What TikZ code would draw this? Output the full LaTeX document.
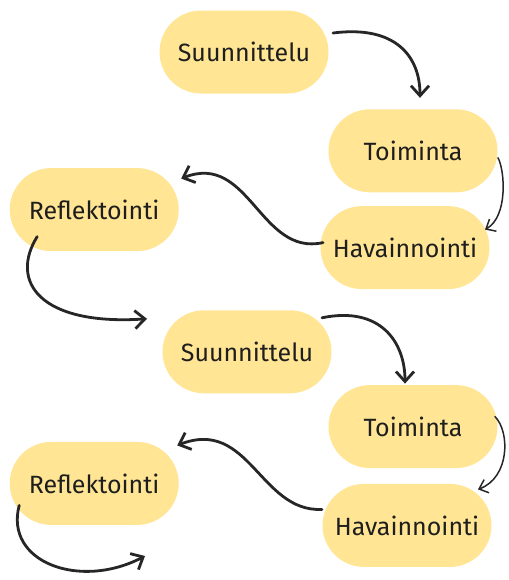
\documentclass[tikz,border=0pt]{standalone}
\usepackage{fontspec}
\setmainfont{Fira Sans}
\usetikzlibrary{positioning,shapes.misc,arrows.meta}
\definecolor{stagefill}{HTML}{FFE594}
\definecolor{stagetext}{HTML}{1E1E1E}
\definecolor{flowline}{HTML}{262626}
\tikzset{
  stage/.style={rounded rectangle, fill=stagefill, text=stagetext,
    minimum width=84.5pt, minimum height=41.5pt, inner sep=0pt,
    font=\fontsize{12.5}{14}\selectfont},
  flow/.style={draw=flowline, line width=1.4pt, line cap=round,
    -{Straight Barb[length=5pt,width=9pt]}},
  thinflow/.style={flow, line width=0.75pt,
    -{Straight Barb[length=4pt,width=7pt]}},
}

\begin{document}
\begin{tikzpicture}[x=0.5pt,y=-0.5pt]
  \useasboundingbox (0,0) rectangle (509,580);

  % First cycle
  \node[stage] (plan1) at (244,52) {Suunnittelu};
  \node[stage, below=7.5pt of plan1, xshift=84.5pt] (act1) {Toiminta};
  \node[stage, below=6.5pt of act1, xshift=-4pt] (obs1) {Havainnointi};
  \node[stage, left=70.5pt of obs1, yshift=19pt] (refl1) {Reflektointi};

  % Second cycle
  \node[stage, below=108pt of plan1, xshift=1.5pt] (plan2) {Suunnittelu};
  \node[stage, below=96pt of act1] (act2) {Toiminta};
  \node[stage, below=97pt of obs1, xshift=1pt] (obs2) {Havainnointi};
  \node[stage, below=95pt of refl1] (refl2) {Reflektointi};
  \coordinate (next) at (145,556);

  % Connect the nodes
  \draw[flow] ([shift={(89,-19)}]plan1.center) .. controls +(62,-8) and +(0,-42) .. ([shift={(7,-53)}]act1.center);
  \draw[thinflow] ([shift={(85,7)}]act1.center) .. controls +(7,13) and +(23,-13) .. ([shift={(80,-18)}]obs1.center);
  \draw[flow] ([shift={(-82,-5)}]obs1.center) .. controls +(-63,14) and +(68,-27) .. ([shift={(87,-31)}]refl1.center);
  \draw[flow] ([shift={(-57,27)}]refl1.center) .. controls +(-28,45) and +(-107,7) .. ([shift={(-100,-33)}]plan2.center);

  \draw[flow] ([shift={(75,-34)}]plan2.center) .. controls +(58,-12) and +(0,-42) .. ([shift={(-8,-43)}]act2.center);
  \draw[thinflow] ([shift={(82,-10)}]act2.center) .. controls +(15,15) and +(32,-12) .. ([shift={(71,-36)}]obs2.center);
  \draw[flow] ([shift={(-85,-16)}]obs2.center) .. controls +(-62,3) and +(72,-28) .. ([shift={(83,-38)}]refl2.center);
  \draw[flow] ([shift={(-75,22)}]refl2.center) .. controls +(-15,57) and +(-65,34) .. (next);

\end{tikzpicture}
\end{document}
